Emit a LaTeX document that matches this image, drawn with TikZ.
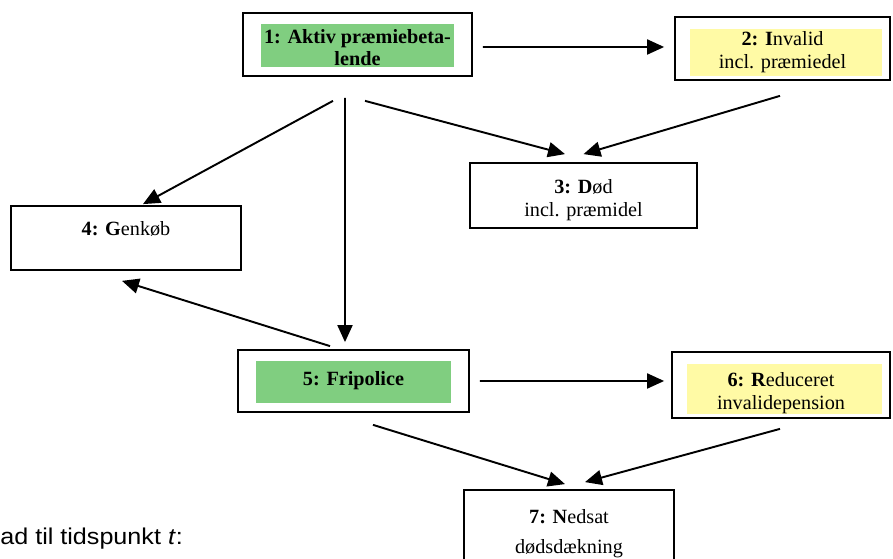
\documentclass[tikz,border=0pt]{standalone}
\usepackage{fontspec}
\setmainfont{Liberation Serif}
\newfontfamily\notefont{Liberation Sans}
\usetikzlibrary{arrows.meta, calc}
\definecolor{stategreen}{RGB}{128,206,128}
\definecolor{stateyellow}{RGB}{255,250,165}
\tikzstyle{state}      = [rectangle, draw, line width=1pt, text centered, align=center,
                          inner sep=0pt, minimum height=1.26cm,
                          font=\fontsize{11.5}{13}\selectfont]
\tikzstyle{greenfill}  = [path picture={\fill[stategreen]
                          ($(path picture bounding box.south west)+(0.36,0.18)$) rectangle
                          ($(path picture bounding box.north east)+(-0.36,-0.23)$);}]
\tikzstyle{yellowfill} = [path picture={\fill[stateyellow]
                          ($(path picture bounding box.south west)+(0.3,0.07)$) rectangle
                          ($(path picture bounding box.north east)+(-0.17,-0.24)$);}]
\tikzstyle{arrow}      = [-{Triangle[length=3.4mm, width=3mm]}, line width=1.1pt]

\begin{document}
\begin{tikzpicture}
  \useasboundingbox (0,0) rectangle (17.86,11.18);
  \clip (0,0) rectangle (17.86,11.18);

  \node[state, greenfill, minimum width=4.58cm, text height=0.86cm] (s1) at (7.15,10.29)
    {\textbf{1: Aktiv præmiebeta-}\\\textbf{lende}};
  \node[state, yellowfill, minimum width=4.3cm, text height=0.9cm] (s2) at (15.65,10.21)
    {\textbf{2: I}nvalid\\incl. præmiedel};
  \node[state, minimum width=4.54cm, minimum height=1.3cm, text height=0.92cm] (s3) at (11.67,7.27)
    {\textbf{3: D}ød\\incl. præmidel};
  \node[state, minimum width=4.6cm, minimum height=1.28cm, text depth=0.38cm] (s4) at (2.52,6.42)
    {\textbf{4: G}enkøb};
  \node[state, greenfill, minimum width=4.62cm, minimum height=1.24cm] (s5) at (7.07,3.56)
    {\textbf{5: Fripolice}};
  \node[state, yellowfill, minimum width=4.36cm, minimum height=1.32cm, text height=1.06cm] (s6) at (15.62,3.48)
    {\textbf{6: R}educeret\\invalidepension};
  \node[state, minimum width=4.2cm, minimum height=1.76cm] (s7) at (11.38,0.5)
    {\textbf{7: N}edsat\\[4pt]dødsdækning};

  \node[anchor=base west, xscale=1.1, transform shape, inner sep=0pt,
        font=\notefont\fontsize{13}{15}\selectfont] (note) at (0,0.28)
    {ad til tidspunkt \textit{t}:};

  \draw[arrow] ([xshift=0.2cm,yshift=-0.05cm]s1.east) -- ([xshift=-0.2cm,yshift=0.03cm]s2.west);
  \draw[arrow] ([xshift=0.15cm,yshift=-0.48cm]s1.south) -- ([xshift=-0.37cm,yshift=0.16cm]s3.north);
  \draw[arrow] ([xshift=-0.05cm,yshift=-0.3cm]s2.south) -- ([yshift=0.16cm]s3.north);
  \draw[arrow] ([xshift=-0.49cm,yshift=-0.48cm]s1.south) -- ([xshift=0.34cm,yshift=0.02cm]s4.north);
  \draw[arrow] ([xshift=-0.25cm,yshift=-0.42cm]s1.south) -- ([xshift=-0.17cm,yshift=0.14cm]s5.north);
  \draw[arrow] ([xshift=-0.47cm,yshift=0.06cm]s5.north) -- ([xshift=-0.08cm,yshift=-0.2cm]s4.south);
  \draw[arrow] ([xshift=0.2cm]s5.east) -- ([xshift=-0.14cm,yshift=0.08cm]s6.west);
  \draw[arrow] ([xshift=0.39cm,yshift=-0.24cm]s5.south) -- ([xshift=-0.08cm,yshift=0.1cm]s7.north);
  \draw[arrow] ([xshift=-0.02cm,yshift=-0.2cm]s6.south) -- ([xshift=0.32cm,yshift=0.14cm]s7.north);
\end{tikzpicture}
\end{document}
